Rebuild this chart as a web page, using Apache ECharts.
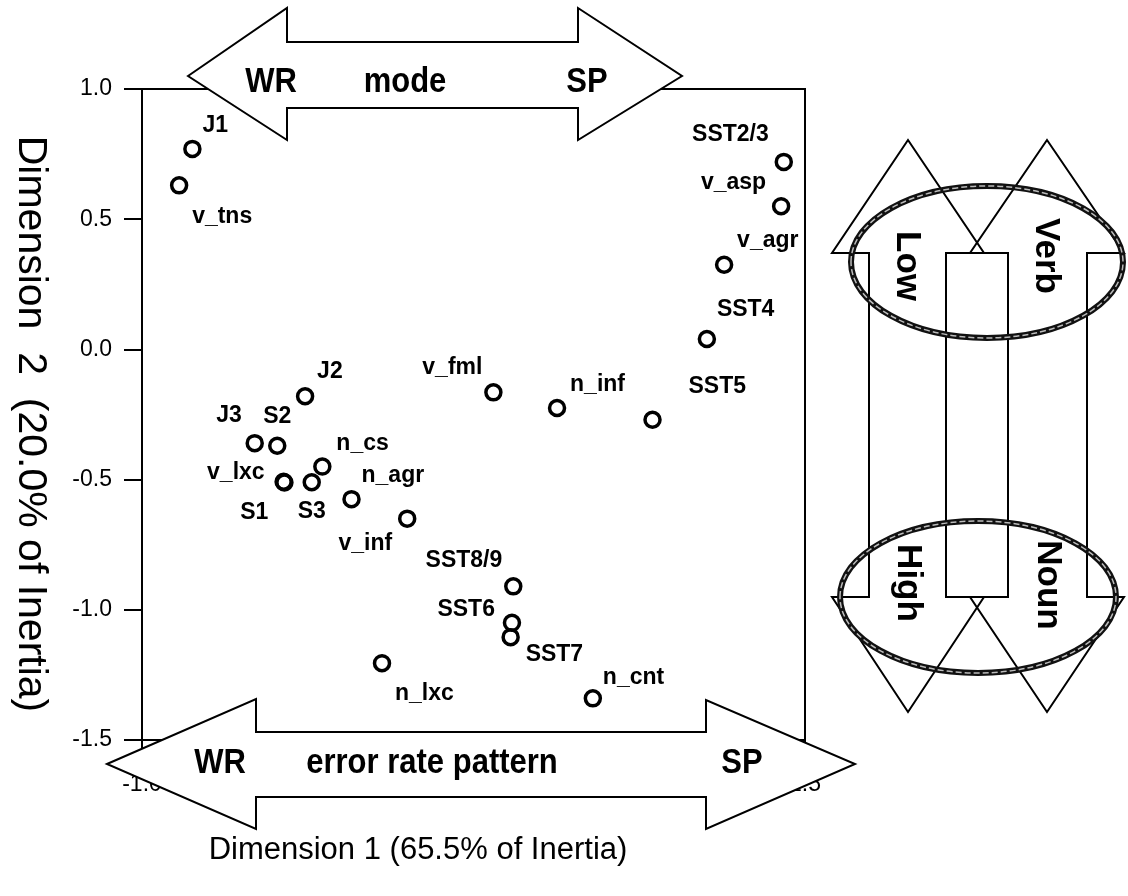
<!DOCTYPE html>
<html>
<head>
<meta charset="utf-8">
<script src="https://cdn.jsdelivr.net/npm/echarts@6/dist/echarts.min.js"></script>
<style>html,body{margin:0;padding:0;background:#fff}#c{width:1128px;height:896px}</style>
</head>
<body>
<div id="c"></div>
<script>
// ---- data ----
const names = ['J1','v_tns','J2','J3','S2','n_cs','v_lxc','S1','S3','n_agr','v_inf','v_fml','n_inf','SST5','SST8/9','SST6','SST7','n_lxc','n_cnt','SST2/3','v_asp','v_agr','SST4'];
const dim1 = [-0.81,-0.86,-0.385,-0.575,-0.49,-0.32,-0.466,-0.463,-0.36,-0.21,0.0,0.325,0.565,0.925,0.40,0.395,0.39,-0.095,0.70,1.42,1.41,1.195,1.13];
const dim2 = [0.77,0.63,-0.18,-0.36,-0.37,-0.45,-0.508,-0.511,-0.51,-0.575,-0.65,-0.165,-0.225,-0.27,-0.91,-1.05,-1.105,-1.205,-1.34,0.72,0.55,0.325,0.04];
const xTitle = 'Dimension 1 (65.5% of Inertia)';
const yTitle = 'Dimension  2  (20.0% of Inertia)';
const topArrowTexts = ['WR','mode','SP'];
const bottomArrowTexts = ['WR','error rate pattern','SP'];
const sideTexts = ['Low','Verb','High','Noun'];

// label placement (style only): [align, dx, dy]
const labelPlace = [
  ['left',10,-23],['left',13,31],['left',12,-25],['right',-13,-27],['center',0,-29],
  ['left',14,-23],['right',-19,-9],['right',-16,30],['center',0,29],['left',10,-23],
  ['right',-15,25],['right',-11,-25],['left',13,-23],['left',36,-33],['right',-11,-26],
  ['right',-17,-13],['left',15,18],['left',13,30],['left',10,-21],['right',-15,-27],
  ['right',-15,-24],['left',13,-24],['left',10,-29]
];

const FONT = '"Liberation Sans", Arial, sans-serif';

const seriesData = names.map((n, i) => ({
  name: n,
  value: [dim1[i], dim2[i]],
  label: {
    position: 'inside',
    align: labelPlace[i][0],
    verticalAlign: 'middle',
    offset: [labelPlace[i][1], labelPlace[i][2]]
  }
}));

const chart = echarts.init(document.getElementById('c'), null, {renderer: 'canvas'});

function txt(x, y, text, size, weight, rot, sy) {
  return {
    type: 'text', x: x, y: y, rotation: rot || 0, scaleY: sy || 1, z: 120,
    style: {
      text: text, x: 0, y: 0,
      font: (weight || 'normal') + ' ' + size + 'px ' + FONT,
      fill: '#000', align: 'center', verticalAlign: 'middle'
    }
  };
}
function poly(points, fill, z) {
  return {
    type: 'polygon', z: z,
    shape: {points: points},
    style: {fill: fill, stroke: '#000', lineWidth: 2, lineJoin: 'miter'}
  };
}
function ellipse(cx, cy, rx, ry) {
  return [
    {type: 'ellipse', z: 110, shape: {cx: cx, cy: cy, rx: rx, ry: ry},
     style: {fill: 'none', stroke: '#111', lineWidth: 6}},
    {type: 'ellipse', z: 111, shape: {cx: cx, cy: cy, rx: rx, ry: ry},
     style: {fill: 'none', stroke: '#bbb', lineWidth: 1.5, lineDash: [6, 3]}}
  ];
}

const R = -Math.PI / 2;

const graphics = [
  poly([[188,76],[287,8],[287,42],[578,42],[578,8],[682,76],[578,140],[578,108],[287,108],[287,140]], '#fff', 100),
  poly([[107,764],[256,699],[256,732],[706,732],[706,700],[855,764],[706,829],[706,797],[256,797],[256,829]], '#fff', 100),
  poly([[908,140],[984,253],[946,253],[946,597],[984,597],[908,712],[832,597],[869,597],[869,253],[832,253]], 'none', 100),
  poly([[1047,140],[1124,253],[1087,253],[1087,597],[1124,597],[1047,712],[970,597],[1008,597],[1008,253],[970,253]], 'none', 100),
  ...ellipse(987, 262, 136, 76),
  ...ellipse(978, 597, 138, 76),
  txt(271, 82, topArrowTexts[0], 31, 'bold', 0, 1.15),
  txt(405, 82, topArrowTexts[1], 31, 'bold', 0, 1.15),
  txt(587, 82, topArrowTexts[2], 31, 'bold', 0, 1.15),
  txt(220, 763, bottomArrowTexts[0], 31, 'bold', 0, 1.15),
  txt(432, 763, bottomArrowTexts[1], 31, 'bold', 0, 1.15),
  txt(742, 763, bottomArrowTexts[2], 31, 'bold', 0, 1.15),
  txt(907, 266, sideTexts[0], 35, 'bold', R),
  txt(1046, 256, sideTexts[1], 35, 'bold', R),
  txt(908, 583, sideTexts[2], 35, 'bold', R),
  txt(1048, 585, sideTexts[3], 35, 'bold', R),
  txt(418, 850, xTitle, 31, 'normal'),
  txt(30, 424, yTitle, 41, 'normal', R)
];

chart.setOption({
  backgroundColor: '#fff',
  animation: false,
  grid: {left: 142, right: 323, top: 89, bottom: 156, show: true, borderColor: '#000', borderWidth: 2, backgroundColor: 'transparent'},
  xAxis: {
    type: 'value', min: -1, max: 1.5, interval: 0.5,
    axisLine: {show: true, onZero: false, lineStyle: {color: '#000', width: 2}},
    axisTick: {show: true, length: 18, lineStyle: {color: '#000', width: 2}},
    axisLabel: {color: '#000', fontSize: 23, fontFamily: FONT, margin: 33, formatter: v => v.toFixed(1)},
    splitLine: {show: false}
  },
  yAxis: {
    type: 'value', min: -1.5, max: 1, interval: 0.5,
    axisLine: {show: true, onZero: false, lineStyle: {color: '#000', width: 2}},
    axisTick: {show: true, length: 18, lineStyle: {color: '#000', width: 2}},
    axisLabel: {color: '#000', fontSize: 23, fontFamily: FONT, margin: 30, formatter: v => v.toFixed(1)},
    splitLine: {show: false}
  },
  series: [{
    type: 'scatter',
    symbol: 'circle',
    symbolSize: 15,
    itemStyle: {color: 'rgba(0,0,0,0)', borderColor: '#000', borderWidth: 3.5, opacity: 1},
    label: {show: true, formatter: '{b}', color: '#000', fontSize: 23, fontWeight: 'bold', fontFamily: FONT, textBorderWidth: 0},
    emphasis: {disabled: true},
    data: seriesData
  }],
  graphic: graphics
});
</script>
</body>
</html>
